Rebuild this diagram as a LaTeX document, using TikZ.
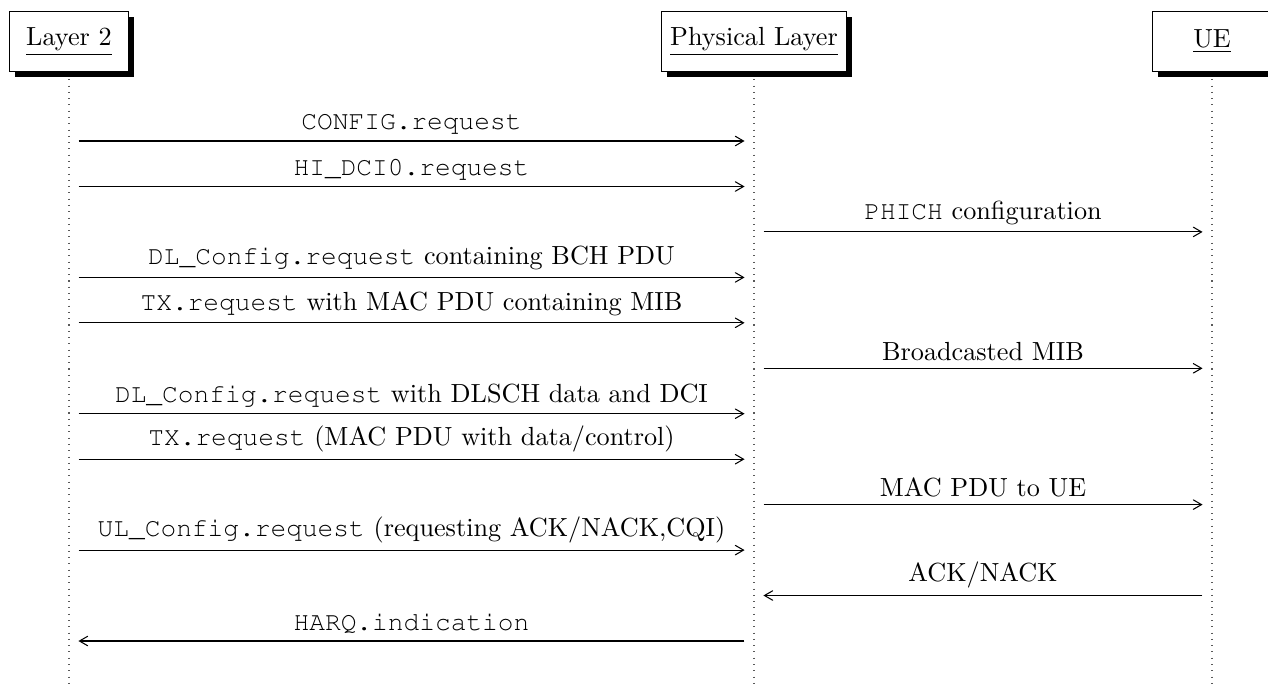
\documentclass[tikz,border=0pt]{standalone}
\usetikzlibrary{arrows,shadows}
% Courier (URW Nimbus Mono) for code-like message names
\newcommand\code[1]{{\fontencoding{T1}\fontfamily{pcr}\selectfont #1}}
\begin{document}
\begin{tikzpicture}[x=0.38168pt,y=-0.38168pt,
  thread/.style={rectangle,draw,fill=white,minimum height=0.8cm,minimum width=1.6cm,
    drop shadow={opacity=1,fill=black}},
  lifeline/.style={dotted,draw=black!65},
  msg/.style={->,>=angle 60,shorten <=3.7pt,shorten >=3.6pt},
  lbl/.style={above,inner sep=2.5pt}]
\clip (0,0) rectangle (1268,684);
\coordinate (bottom) at (0,684);
% lifeline anchors
\coordinate (l2)  at (69,41.5);
\coordinate (phy) at (754,41.5);
\coordinate (ue)  at (1212,41.5);
% lifelines
\draw[lifeline] (l2)  -- (l2 |- bottom);
\draw[lifeline] (phy) -- (phy |- bottom);
\draw[lifeline] (ue)  -- (ue |- bottom);
% thread heads
\node[thread] (L2)  at (l2)  {\underline{Layer 2}};
\node[thread] (PHY) at (phy) {\underline{Physical Layer}};
\node[thread] (UE)  at (ue)  {\underline{UE}};
% message rows
\foreach \i/\y in {1/141,2/186.5,3/231.9,4/277.4,5/322.8,6/368.3,7/413.7,8/459.2,9/504.6,10/550.1,11/595.5,12/641}
  \coordinate (m\i) at (0,\y);
% messages
\draw[msg] (l2 |- m1) -- node[lbl] {\code{CONFIG.request}} (phy |- m1);
\draw[msg] (l2 |- m2) -- node[lbl] {\code{HI\_DCI0.request}} (phy |- m2);
\draw[msg] (phy |- m3) -- node[lbl] {\code{PHICH} configuration} (ue |- m3);
\draw[msg] (l2 |- m4) -- node[lbl] {\code{DL\_Config.request} containing BCH PDU} (phy |- m4);
\draw[msg] (l2 |- m5) -- node[lbl] {\code{TX.request} with MAC PDU containing MIB} (phy |- m5);
\draw[msg] (phy |- m6) -- node[lbl] {Broadcasted MIB} (ue |- m6);
\draw[msg] (l2 |- m7) -- node[lbl] {\code{DL\_Config.request} with DLSCH data and DCI} (phy |- m7);
\draw[msg] (l2 |- m8) -- node[lbl] {\code{TX.request} (MAC PDU with data/control)} (phy |- m8);
\draw[msg] (phy |- m9) -- node[lbl] {MAC PDU to UE} (ue |- m9);
\draw[msg] (l2 |- m10) -- node[lbl] {\code{UL\_Config.request} (requesting ACK/NACK,CQI)} (phy |- m10);
\draw[msg] (ue |- m11) -- node[lbl] {ACK/NACK} (phy |- m11);
\draw[msg] (phy |- m12) -- node[lbl] {\code{HARQ.indication}} (l2 |- m12);
\end{tikzpicture}
\end{document}
